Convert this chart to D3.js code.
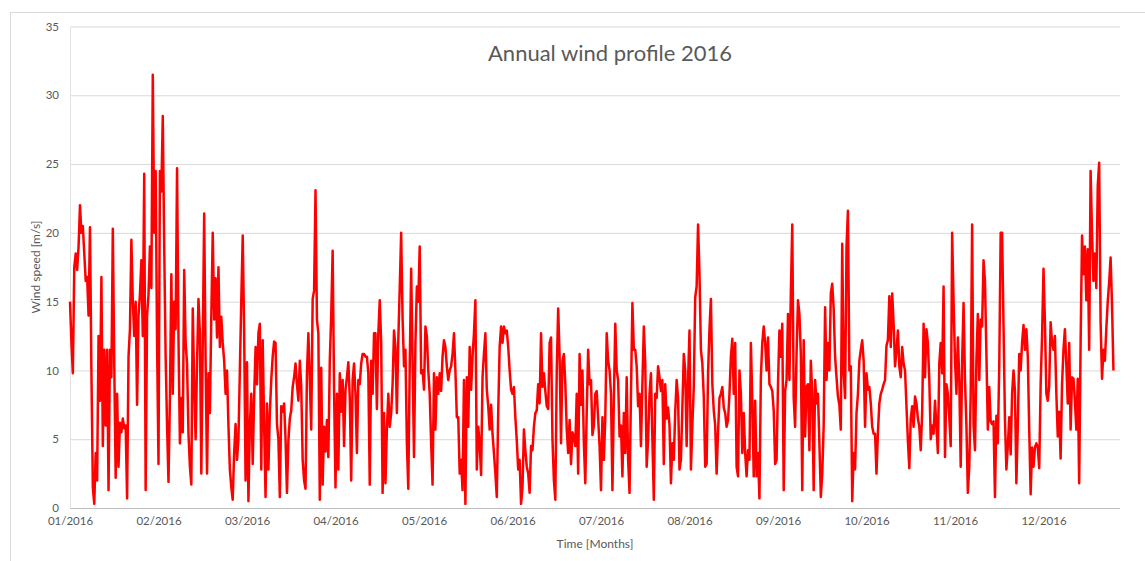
<!DOCTYPE html>
<html>
<head>
<meta charset="utf-8">
<script src="https://cdn.jsdelivr.net/npm/d3@7"></script>
<style>
  html, body { margin: 0; padding: 0; background: #fff; }
  svg { display: block; font-family: Lato, "Open Sans", sans-serif; }
</style>
</head>
<body>
<div id="chart"></div>
<script>
// Annual wind profile 2016 — one value every 12 h
const STEP_HOURS = 12;
const LABEL_EVERY_HOURS = 744;   // Excel category axis: one label every 744 points
const YEAR_HOURS = 8784;

const tickLabels = ['01/2016', '02/2016', '03/2016', '04/2016', '05/2016', '06/2016',
                    '07/2016', '08/2016', '09/2016', '10/2016', '11/2016', '12/2016'];
const yTicks = [0, 5, 10, 15, 20, 25, 30, 35];

const windSpeed = [
  15, 12, 9.8, 17.5, 18.5, 17.3, 19, 22, 20, 20.5,
  18.5, 16.5, 16.8, 14, 20.4, 10, 1.5, 0.3, 4, 2,
  12.5, 7.8, 16.8, 4.5, 11.5, 6, 11.5, 1.3, 11.5, 9.5,
  20.3, 10.5, 2.2, 8.3, 3, 6.2, 5.5, 6.5, 5.8, 6,
  0.7, 11, 13, 19.5, 15, 12.5, 15, 7.5, 14, 15.5,
  18, 12.5, 24.3, 1.3, 14, 15.5, 19, 16, 31.5, 20,
  24.5, 12, 3.2, 24.5, 23, 28.5, 19, 11, 6, 1.9,
  8, 17, 8.3, 15, 13, 24.7, 12.4, 4.7, 8, 5.5,
  17.3, 12, 10.5, 5.4, 3, 1.7, 14.5, 9, 5, 10.5,
  15.2, 12.7, 2.5, 12, 21.4, 10.7, 2.5, 9.8, 6.9, 14,
  20, 13.7, 16.7, 12.4, 17.5, 11.7, 13.9, 12, 10.7, 8.3,
  10, 6, 2.8, 1.5, 0.6, 4, 6.1, 3.5, 5, 10,
  15.1, 19.8, 12.8, 2, 10.6, 0.5, 6, 8.3, 3.2, 8,
  11.7, 9, 12.7, 13.4, 2.8, 12.2, 6, 0.8, 7.6, 2.8,
  6.9, 9.3, 11, 12.1, 12, 6.1, 5, 0.8, 7.4, 7,
  7.6, 5, 1.1, 4.9, 6.5, 7.1, 8.8, 9.5, 10.5, 9,
  7.8, 10.7, 8.8, 3.5, 2, 1.4, 9.8, 12.7, 9.3, 5.7,
  15.2, 15.8, 23.1, 13.7, 12.7, 0.6, 10.2, 1.7, 5.9, 4.1,
  6.4, 3.7, 10.7, 14, 18.7, 8.6, 1.5, 8.3, 2.8, 9.8,
  7, 9.3, 4.5, 8.6, 9.5, 10.6, 8, 2, 9.3, 10.5,
  8.3, 4, 9.3, 9, 10.5, 11.2, 11.2, 11, 11, 9.8,
  1.7, 10.7, 8.3, 12.7, 12.7, 7.2, 12.7, 15.1, 12, 1.1,
  6.9, 1.8, 5.7, 8.3, 5.9, 6.9, 9, 12.9, 11.7, 6.9,
  12.2, 16, 20, 13.8, 10.3, 11.5, 4.7, 1.4, 10.3, 17.4,
  10.7, 3.7, 12, 16.1, 15, 19, 9.8, 10, 8.6, 13.2,
  12.5, 10, 8.3, 4.7, 1.7, 9.8, 5.7, 9.5, 8.3, 9.8,
  8.5, 11, 12.2, 11.7, 10.3, 9.3, 10, 10.3, 11.2, 12.7,
  10, 6.6, 6.6, 2.5, 3.5, 1.3, 9.3, 0.3, 9.5, 5.9,
  11.7, 8.6, 11, 12.7, 15.1, 2.8, 5.9, 4.7, 2.4, 9.5,
  11.2, 12.7, 8.6, 7.4, 5.7, 7.5, 5.4, 4, 2.5, 0.8,
  7, 11.7, 13.2, 12, 13.2, 12.7, 12.9, 11.7, 10, 8.6,
  8.3, 8.8, 6.6, 4.9, 2.8, 3.5, 0.3, 1.5, 5.7, 4.2,
  3, 2.5, 1.1, 4.5, 4.2, 5.9, 6.9, 7.1, 9, 7.6,
  12.7, 8.8, 9.8, 8.5, 7.4, 7.2, 12, 12.4, 5, 2,
  0.6, 10, 14.5, 11, 4.7, 10.7, 11.2, 9, 5.7, 4,
  6.4, 3.2, 5.5, 5.2, 4.5, 8.3, 2.5, 11.2, 7.5, 10,
  4.7, 1.8, 7, 11.5, 9, 9.3, 5.3, 6, 8.3, 8.5,
  6.5, 4.5, 1.3, 6.6, 3.5, 6.5, 12.7, 10.7, 10, 8.3,
  1.3, 7.8, 13.4, 10, 9.3, 5.2, 6, 2.3, 6.9, 4,
  9.5, 3.5, 1.1, 8.3, 14.9, 11.5, 11.5, 10.3, 7.4, 8.3,
  4.5, 9, 13.2, 10.5, 3, 5, 8.3, 9.8, 5, 0.6,
  8.3, 8, 10.3, 9.5, 8.5, 9.3, 3.2, 9, 6.5, 7.3,
  6, 1.8, 4.7, 3.5, 7, 9.3, 8, 2.8, 3.5, 7.3,
  11.2, 10, 4.5, 9.3, 12.9, 2.8, 6, 8.8, 15.3, 16.1,
  20.6, 17, 11.5, 10.5, 8.1, 3, 3.2, 9.8, 13, 15.2,
  9, 7.1, 6, 2.5, 5.5, 8, 8.3, 8.8, 7.3, 6.9,
  5.9, 6.4, 8.3, 11, 12.3, 8.3, 12, 3, 2.3, 10,
  8.3, 4, 6.9, 4, 2.3, 4.2, 3.5, 12, 7.8, 2.3,
  7.8, 2.3, 4, 0.7, 9.5, 12, 13.2, 12, 10, 12.4,
  9, 8.8, 8.5, 7.1, 3.2, 3.5, 9, 12.9, 11, 13.4,
  1.3, 8.5, 9.3, 14.1, 9.3, 15.6, 20.6, 8, 5.9, 11.2,
  15.1, 14.1, 11.2, 1.3, 12.2, 5.2, 8.8, 9, 4.2, 10.7,
  8.3, 1.3, 9.3, 7.6, 8.3, 4.7, 0.8, 2.5, 6, 14.6,
  9.3, 12, 10, 15.6, 16.3, 14.5, 11, 9.5, 8.1, 7.5,
  5.7, 19.2, 9.8, 8, 19, 21.6, 10, 10.3, 0.5, 4,
  2.8, 6.9, 8.3, 10.7, 11.5, 12.2, 10.7, 5.9, 9.8, 8.6,
  8.8, 7.6, 5.9, 5.4, 5.4, 2.5, 5.5, 7.6, 8.3, 8.6,
  9, 9.3, 11.8, 12.2, 15.4, 11.7, 15.6, 13.4, 10.3, 11.5,
  12.9, 10.3, 9.5, 11.7, 10.5, 10, 7.4, 4.9, 2.9, 6.5,
  7.4, 5.9, 8.1, 7.6, 6.5, 5.9, 4.2, 6.9, 13.4, 9.5,
  13, 12, 9.3, 5, 6, 5.4, 7.8, 5.9, 4, 10.5,
  12, 9.8, 16.1, 3.7, 9, 8.3, 6.6, 4.5, 20, 15,
  10.7, 8.3, 12.4, 9.3, 3, 10.7, 14.9, 9.3, 6, 1.1,
  3, 8.3, 20.6, 6, 4.2, 10.7, 14.1, 9.3, 13.7, 13.2,
  18, 16.5, 11.2, 5.7, 8.8, 6.3, 6.1, 6.3, 0.8, 6.7,
  4.7, 10.3, 20, 20, 13.2, 6.4, 2.8, 4.5, 6.6, 3.9,
  8.3, 10, 8.5, 1.8, 6, 11.2, 10, 12, 13.3, 11.5,
  13, 11, 5.7, 1, 4.4, 3, 4.4, 4.7, 4.4, 2.9,
  9, 12.5, 17.4, 13.5, 8.3, 7.8, 8.9, 13.5, 12, 11.5,
  12.5, 8.3, 5.2, 7, 3.6, 9, 11.5, 13, 10.4, 7.6,
  12, 5.7, 9.5, 9.4, 7.8, 5.7, 9.4, 1.8, 12, 19.8,
  17, 19, 15.1, 18.8, 11.5, 24.5, 20, 16.5, 18.5, 16,
  23.4, 25.1, 13.5, 9.4, 11.5, 10.7, 13, 15, 16.4, 18.2,
  14.8, 10
];

const W = 1145, H = 561;
const plot = { left: 70, right: 1120, top: 26.5, bottom: 508 };
const hourPx = 88.5 / LABEL_EVERY_HOURS;   // label spacing in the original

const svg = d3.select('#chart').append('svg').attr('width', W).attr('height', H);

// chart frame
svg.append('rect')
  .attr('x', 10.5).attr('y', 12.5).attr('width', W).attr('height', H)
  .attr('fill', 'none').attr('stroke', '#d9d9d9').attr('stroke-width', 1);

const x = d3.scaleLinear()
  .domain([0, YEAR_HOURS])
  .range([plot.left, plot.left + YEAR_HOURS * hourPx]);
const y = d3.scaleLinear().domain([0, 35]).range([plot.bottom, plot.top]);

// gridlines + y labels
const yAxis = d3.axisLeft(y).tickValues(yTicks)
  .tickSize(-(plot.right - plot.left)).tickPadding(11).tickFormat(d3.format('d'));
const gy = svg.append('g').attr('transform', `translate(${plot.left},0)`).call(yAxis);
gy.select('.domain').remove();
gy.selectAll('.tick line').attr('stroke-width', 1)
  .attr('stroke', d => d === 0 ? '#bfbfbf' : '#d9d9d9');
gy.selectAll('.tick text').attr('fill', '#595959').attr('font-size', 11.5)
  .attr('font-family', 'Lato, sans-serif');

// left plot edge
svg.append('line')
  .attr('x1', plot.left + 0.5).attr('x2', plot.left + 0.5)
  .attr('y1', plot.top).attr('y2', plot.bottom)
  .attr('stroke', '#e3e3e3');

// x labels every 744 h
const xAxis = d3.axisBottom(x)
  .tickValues(tickLabels.map((_, i) => i * LABEL_EVERY_HOURS))
  .tickFormat((d, i) => tickLabels[i]).tickSize(0).tickPadding(9);
const gx = svg.append('g').attr('transform', `translate(0,${plot.bottom})`).call(xAxis);
gx.select('.domain').remove();
gx.selectAll('.tick text').attr('fill', '#595959').attr('font-size', 11.5)
  .attr('font-family', 'Lato, sans-serif');

// the series
const line = d3.line()
  .x((d, i) => x(i * STEP_HOURS))
  .y(d => y(d));
svg.append('path')
  .datum(windSpeed)
  .attr('d', line)
  .attr('fill', 'none')
  .attr('stroke', '#ff0000')
  .attr('stroke-width', 2.5)
  .attr('stroke-linejoin', 'round');

// titles
svg.append('text')
  .attr('x', 610).attr('y', 61)
  .attr('text-anchor', 'middle')
  .attr('fill', '#595959').attr('font-size', 22)
  .text('Annual wind profile 2016');

svg.append('text')
  .attr('x', 595).attr('y', 548)
  .attr('text-anchor', 'middle')
  .attr('fill', '#595959').attr('font-size', 12)
  .text('Time [Months]');

svg.append('text')
  .attr('transform', 'translate(40,267) rotate(-90)')
  .attr('text-anchor', 'middle')
  .attr('fill', '#595959').attr('font-size', 12)
  .text('Wind speed [m/s]');
</script>
</body>
</html>
